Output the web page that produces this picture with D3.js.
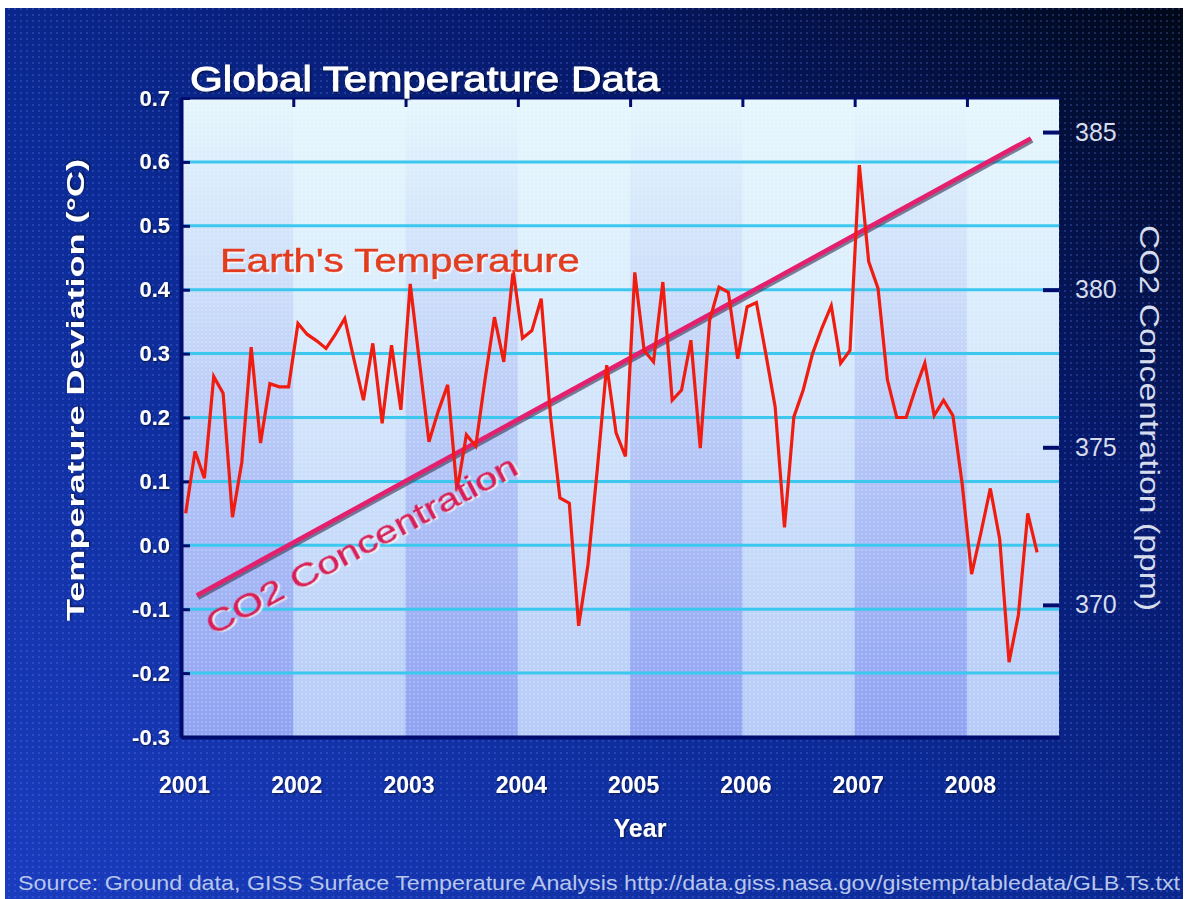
<!DOCTYPE html>
<html>
<head>
<meta charset="utf-8">
<script src="https://cdn.jsdelivr.net/npm/d3@7/dist/d3.min.js"></script>
<style>
  html, body { margin: 0; padding: 0; background: #ffffff; }
  svg { display: block; }
  text { font-family: "Liberation Sans", Arial, sans-serif; }
</style>
</head>
<body>
<svg id="chart" width="1192" height="899"></svg>
<script>
// ---------------- data ----------------
const yearLabels = [2001, 2002, 2003, 2004, 2005, 2006, 2007, 2008];
const tempTicks = [0.7, 0.6, 0.5, 0.4, 0.3, 0.2, 0.1, 0.0, -0.1, -0.2, -0.3];
const co2Ticks = [370, 375, 380, 385];
const startYear = 2001;
// Monthly temperature deviation (°C), Jan 2001 – Aug 2008
const temperature = [
  0.05, 0.147, 0.105, 0.264, 0.238, 0.044, 0.13, 0.31, 0.16, 0.253, 0.248, 0.248,
  0.347, 0.33, 0.32, 0.308, 0.33, 0.355, 0.29, 0.227, 0.316, 0.191, 0.313, 0.212,
  0.409, 0.285, 0.162, 0.21, 0.251, 0.085, 0.173, 0.155, 0.26, 0.357, 0.287, 0.43,
  0.324, 0.336, 0.386, 0.201, 0.074, 0.066, -0.126, -0.03, 0.12, 0.282, 0.176, 0.139,
  0.427, 0.305, 0.287, 0.412, 0.227, 0.243, 0.321, 0.152, 0.352, 0.404, 0.396, 0.292,
  0.373, 0.38, 0.30, 0.217, 0.028, 0.201, 0.243, 0.30, 0.34, 0.375, 0.285, 0.305,
  0.595, 0.444, 0.402, 0.259, 0.2, 0.2, 0.245, 0.285, 0.203, 0.227, 0.203, 0.095,
  -0.045, 0.02, 0.089, 0.01, -0.183, -0.109, 0.05, -0.011
];
// CO2 concentration trend (ppm)
const co2Years = [2001.14, 2008.57];
const co2Ppm = [370.3, 384.8];

// ---------------- layout ----------------
const svg = d3.select("#chart");
const W = 1192, H = 899;
const plot = { left: 181, right: 1059, top: 98, bottom: 737 };

const x = d3.scaleLinear().domain([2001, 2008.82]).range([plot.left, plot.right]);
const y = d3.scaleLinear().domain([-0.3, 0.7]).range([plot.bottom, plot.top]);
const yCo2 = d3.scaleLinear().domain([365.81, 386.08]).range([plot.bottom, plot.top]);

const defs = svg.append("defs");
const bgGrad = defs.append("linearGradient").attr("id", "bgGrad")
  .attr("x1", "0").attr("y1", "1").attr("x2", "1").attr("y2", "0");
[[0, "#1a3cbe"], [0.45, "#0b2a94"], [0.72, "#06196a"], [1, "#000818"]]
  .forEach(([o, c]) => bgGrad.append("stop").attr("offset", o).attr("stop-color", c));

const plotGrad = defs.append("linearGradient").attr("id", "plotGrad")
  .attr("x1", "0").attr("y1", "0").attr("x2", "0").attr("y2", "1");
[[0, "#e6f6fd"], [0.3, "#dceefc"], [1, "#b6cbf8"]]
  .forEach(([o, c]) => plotGrad.append("stop").attr("offset", o).attr("stop-color", c));

const bandGrad = defs.append("linearGradient").attr("id", "bandGrad")
  .attr("x1", "0").attr("y1", "0").attr("x2", "0").attr("y2", "1");
[[0, "#7a88ee", 0.0], [0.25, "#7a88ee", 0.14], [1, "#6676ec", 0.48]]
  .forEach(([o, c, a]) => bandGrad.append("stop").attr("offset", o).attr("stop-color", c).attr("stop-opacity", a));

const dots = defs.append("pattern").attr("id", "dots").attr("patternUnits", "userSpaceOnUse")
  .attr("width", 6).attr("height", 6);
dots.append("circle").attr("cx", 3).attr("cy", 3).attr("r", 0.9).attr("fill", "#6f8cff").attr("opacity", 0.35);

const pdots = defs.append("pattern").attr("id", "pdots").attr("patternUnits", "userSpaceOnUse")
  .attr("width", 4).attr("height", 4);
pdots.append("circle").attr("cx", 2).attr("cy", 2).attr("r", 0.7).attr("fill", "#ffffff").attr("opacity", 0.5);

const shadow = defs.append("filter").attr("id", "txtShadow").attr("x", "-10%").attr("y", "-10%").attr("width", "120%").attr("height", "130%");
shadow.append("feDropShadow").attr("dx", 1).attr("dy", 1).attr("stdDeviation", 0.8).attr("flood-color", "#000000").attr("flood-opacity", 0.6);

const lightShadow = defs.append("filter").attr("id", "lightShadow").attr("x", "-10%").attr("y", "-10%").attr("width", "120%").attr("height", "130%");
lightShadow.append("feDropShadow").attr("dx", 1.5).attr("dy", 1.5).attr("stdDeviation", 0.6).attr("flood-color", "#ffffff").attr("flood-opacity", 0.8);

// ---------------- background ----------------
svg.append("rect").attr("x", 0).attr("y", 0).attr("width", W).attr("height", H).attr("fill", "#ffffff");
svg.append("rect").attr("x", 5).attr("y", 8).attr("width", 1178).attr("height", H - 8).attr("fill", "url(#bgGrad)");
svg.append("rect").attr("x", 5).attr("y", 8).attr("width", 1178).attr("height", H - 8).attr("fill", "url(#dots)");

// plot area
svg.append("rect").attr("x", plot.left).attr("y", plot.top)
  .attr("width", plot.right - plot.left).attr("height", plot.bottom - plot.top)
  .attr("fill", "url(#plotGrad)");

// alternating year bands (2001, 2003, 2005, 2007 darker)
const bandYears = yearLabels.filter((d, i) => i % 2 === 0);
svg.append("g").selectAll("rect").data(bandYears).join("rect")
  .attr("x", d => x(d))
  .attr("y", plot.top)
  .attr("width", d => x(d + 1) - x(d))
  .attr("height", plot.bottom - plot.top)
  .attr("fill", "url(#bandGrad)");

svg.append("rect").attr("x", plot.left).attr("y", plot.top)
  .attr("width", plot.right - plot.left).attr("height", plot.bottom - plot.top)
  .attr("fill", "url(#pdots)");

// gridlines
const gridVals = tempTicks.filter(d => d < 0.65 && d > -0.25);
svg.append("g").selectAll("line").data(gridVals).join("line")
  .attr("x1", plot.left).attr("x2", plot.right)
  .attr("y1", d => y(d)).attr("y2", d => y(d))
  .attr("stroke", "#3cc8ee").attr("stroke-width", 3);

// ---------------- axes ----------------
const navy = "#000c6e";
const fmt = d => (Math.abs(d) < 1e-9 ? "0.0" : d.toFixed(1));

const gLeft = svg.append("g").attr("transform", `translate(${plot.left},0)`)
  .call(d3.axisLeft(y).tickValues(tempTicks).tickFormat(fmt).tickSizeInner(-9).tickSizeOuter(0).tickPadding(11));
gLeft.select(".domain").attr("stroke", navy).attr("stroke-width", 4);
gLeft.selectAll(".tick line").attr("stroke", navy).attr("stroke-width", 3);
gLeft.selectAll(".tick text").attr("fill", "#ffffff").attr("font-size", 22).attr("font-weight", "bold")
  .attr("filter", "url(#txtShadow)");

const gRight = svg.append("g").attr("transform", `translate(${plot.right},0)`)
  .call(d3.axisRight(yCo2).tickValues(co2Ticks).tickFormat(d3.format("d")).tickSizeInner(-16).tickSizeOuter(0).tickPadding(16));
gRight.select(".domain").remove();
gRight.selectAll(".tick line").attr("stroke", navy).attr("stroke-width", 4);
gRight.selectAll(".tick text").attr("fill", "#d6dcec").attr("font-size", 25);

const gBottom = svg.append("g").attr("transform", `translate(0,${plot.bottom})`)
  .call(d3.axisBottom(x).tickValues(yearLabels).tickFormat(d3.format("d")).tickSize(0).tickPadding(40));
gBottom.select(".domain").attr("stroke", navy).attr("stroke-width", 4);
gBottom.selectAll(".tick text").attr("fill", "#ffffff").attr("font-size", 23).attr("font-weight", "bold")
  .attr("dx", 3).attr("filter", "url(#txtShadow)");

const gTop = svg.append("g").attr("transform", `translate(0,${plot.top})`)
  .call(d3.axisTop(x).tickValues(yearLabels.slice(1)).tickFormat("").tickSizeInner(-9).tickSizeOuter(0));
gTop.select(".domain").attr("stroke", navy).attr("stroke-width", 2);
gTop.selectAll(".tick line").attr("stroke", navy).attr("stroke-width", 3);

// ---------------- series ----------------
// CO2 line with dark shadow
const co2Data = co2Years.map((yr, i) => ({ yr, v: co2Ppm[i] }));
const co2Line = d3.line().x(d => x(d.yr)).y(d => yCo2(d.v));
svg.append("path").datum(co2Data).attr("d", co2Line)
  .attr("transform", "translate(1.5,2.5)")
  .attr("fill", "none").attr("stroke", "#4a4a6a").attr("stroke-width", 4).attr("opacity", 0.7);
svg.append("path").datum(co2Data).attr("d", co2Line)
  .attr("fill", "none").attr("stroke", "#e4206e").attr("stroke-width", 4.5).attr("stroke-linecap", "butt");

// temperature line
const tempData = temperature.map((v, i) => ({ yr: startYear + (i + 0.5) / 12, v }));
svg.append("path").datum(tempData)
  .attr("d", d3.line().x(d => x(d.yr)).y(d => y(d.v)))
  .attr("fill", "none").attr("stroke", "#f01c10").attr("stroke-width", 3.2)
  .attr("stroke-linejoin", "miter").attr("stroke-miterlimit", 4);

// ---------------- labels ----------------
svg.append("text").attr("x", 190).attr("y", 91)
  .attr("fill", "#ffffff").attr("font-size", 35)
  .attr("stroke", "#ffffff").attr("stroke-width", 0.9)
  .attr("textLength", 470).attr("lengthAdjust", "spacingAndGlyphs")
  .attr("filter", "url(#txtShadow)")
  .text("Global Temperature Data");

svg.append("text").attr("x", 220).attr("y", 272)
  .attr("fill", "#e23c1c").attr("font-size", 33)
  .attr("stroke", "#e23c1c").attr("stroke-width", 0.6)
  .attr("textLength", 360).attr("lengthAdjust", "spacingAndGlyphs")
  .attr("filter", "url(#lightShadow)")
  .text("Earth's Temperature");

// CO2 label along the line
const a0 = [x(co2Years[0]), yCo2(co2Ppm[0])];
const a1 = [x(co2Years[1]), yCo2(co2Ppm[1])];
const angle = Math.atan2(a1[1] - a0[1], a1[0] - a0[0]) * 180 / Math.PI;
svg.append("text")
  .attr("transform", `translate(213,636) rotate(${angle + 0.8})`)
  .attr("fill", "#d81c5c").attr("font-size", 31)
  .attr("stroke", "#d81c5c").attr("stroke-width", 0.6)
  .attr("textLength", 348).attr("lengthAdjust", "spacingAndGlyphs")
  .attr("filter", "url(#lightShadow)")
  .text("CO2 Concentration");

svg.append("text")
  .attr("transform", "translate(84,390) rotate(-90)")
  .attr("text-anchor", "middle")
  .attr("fill", "#ffffff").attr("font-size", 24).attr("font-weight", "bold")
  .attr("textLength", 462).attr("lengthAdjust", "spacingAndGlyphs")
  .attr("filter", "url(#txtShadow)")
  .text("Temperature Deviation (°C)");

svg.append("text")
  .attr("transform", "translate(1140,418) rotate(90)")
  .attr("text-anchor", "middle")
  .attr("fill", "#d6dcec").attr("font-size", 27)
  .attr("textLength", 386).attr("lengthAdjust", "spacingAndGlyphs")
  .text("CO2 Concentration (ppm)");

svg.append("text").attr("x", 640).attr("y", 837)
  .attr("text-anchor", "middle")
  .attr("fill", "#ffffff").attr("font-size", 25).attr("font-weight", "bold")
  .attr("filter", "url(#txtShadow)")
  .text("Year");

svg.append("text").attr("x", 18).attr("y", 890)
  .attr("fill", "#b8c6ec").attr("font-size", 21)
  .attr("textLength", 1162).attr("lengthAdjust", "spacingAndGlyphs")
  .text("Source: Ground data, GISS Surface Temperature Analysis http://data.giss.nasa.gov/gistemp/tabledata/GLB.Ts.txt");
</script>
</body>
</html>
